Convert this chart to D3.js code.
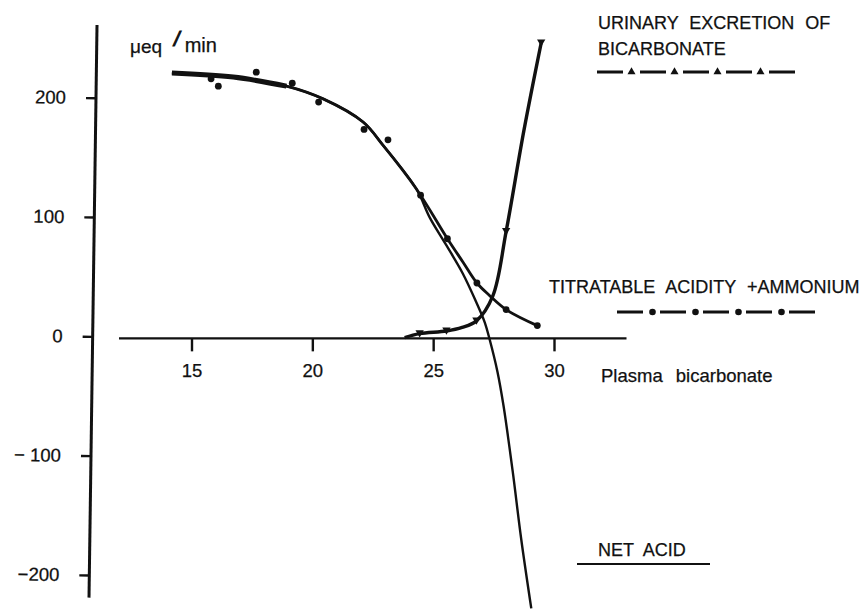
<!DOCTYPE html>
<html>
<head>
<meta charset="utf-8">
<script src="https://cdn.jsdelivr.net/npm/d3@7"></script>
<style>
  html, body { margin: 0; padding: 0; background: #fff; }
  svg { display: block; }
  text { font-family: "Liberation Sans", Arial, Helvetica, sans-serif; fill: #111; stroke: #111; stroke-width: 0.25; }
</style>
</head>
<body>
<svg id="chart" width="864" height="612"></svg>
<script>
// ---- data ----
const xTicks = [15, 20, 25, 30];
const yTicks = [-200, -100, 0, 100, 200];
const yTickLabels = ["\u2212200", "\u2212 100", "0", "100", "200"];

// titratable acidity + ammonium: measured points
const taDots = [
  [15.81, 215.8], [16.11, 209.7], [17.68, 221.4], [19.17, 212.2],
  [20.26, 196.3], [22.14, 173.4], [23.13, 164.7], [24.48, 118.3],
  [25.59, 81.8], [26.81, 44.7], [28.02, 22.4], [29.31, 9.0]
];
// titratable acidity + ammonium: fitted curve
const taCurve = [
  [14.19, 220.7], [16.73, 217.3], [18.93, 209.7], [20.45, 199],
  [22.1, 179.6], [22.93, 160], [24.3, 123.7], [25.59, 81.8],
  [26.23, 62.3], [26.81, 44.7], [27.33, 34.3], [28.02, 22.4], [29.31, 9]
];
// net acid curve
const netCurve = [
  [14.19, 220.7], [16.73, 217.3], [18.93, 209.7], [20.45, 199],
  [22.1, 179.6], [22.93, 160], [24.3, 123.7], [24.86, 99.5],
  [25.55, 76.2], [26.23, 52.5], [26.78, 28.8], [27.13, 12], [27.33, -2],
  [27.66, -29.6], [27.91, -58], [28.29, -113], [28.64, -169.4], [29.06, -228]
];
// urinary excretion of bicarbonate
const bicarbCurve = [
  [23.82, -1], [24.44, 2.3], [25.55, 4.5], [26.2, 7.5], [26.79, 13],
  [27.47, 34], [28.02, 88], [28.75, 172], [29.47, 246]
];
const bicarbMarkers = [
  [24.44, 2.3], [25.55, 4.5], [26.79, 13], [28.02, 88], [29.47, 246]
];

// ---- layout ----
const svg = d3.select("#chart");
const x = d3.scaleLinear().domain([15, 30]).range([191.5, 554]);
const y = d3.scaleLinear().domain([-200, 200]).range([575, 97.7]);

const fontFam = '"Liberation Sans", Arial, sans-serif';

// x axis
const xAxisG = svg.append("g")
  .attr("transform", `translate(0,${y(0) + 2})`);
xAxisG.append("line")
  .attr("x1", x(12)).attr("x2", x(33))
  .attr("stroke", "#111").attr("stroke-width", 2.4);
xAxisG.call(d3.axisBottom(x).tickValues(xTicks).tickSize(13).tickPadding(13).tickFormat(d3.format("d")))
  .call(g => g.select(".domain").remove())
  .call(g => g.selectAll(".tick line").attr("stroke", "#111").attr("stroke-width", 2.4))
  .call(g => g.selectAll(".tick text").attr("font-size", 18.5).attr("fill", "#111").attr("font-family", fontFam));

// x axis title
svg.append("text").attr("x", 601).attr("y", 382)
  .attr("font-size", 18.5).attr("word-spacing", 8).text("Plasma bicarbonate");

// y axis (slightly slanted, as in the original)
const yAxisG = svg.append("g")
  .attr("transform", "rotate(0.8, 93, 312) translate(93,0)");
yAxisG.append("line")
  .attr("y1", y(261)).attr("y2", y(-219))
  .attr("stroke", "#111").attr("stroke-width", 3);
yAxisG.call(d3.axisLeft(y).tickValues(yTicks).tickSize(10).tickPadding(20)
    .tickFormat(d => yTickLabels[yTicks.indexOf(d)]))
  .call(g => g.select(".domain").remove())
  .call(g => g.selectAll(".tick line").attr("stroke", "#111").attr("stroke-width", 2.4))
  .call(g => g.selectAll(".tick text").attr("font-size", 18.5).attr("fill", "#111").attr("font-family", fontFam));

// y unit label
const unit = svg.append("text").attr("x", 130).attr("y", 53).attr("font-size", 19);
unit.append("tspan").text("\u03bceq");
unit.append("tspan").attr("dx", 12).attr("dy", -7).attr("font-size", 20).attr("font-style", "italic")
  .attr("stroke-width", 1).text("/");
unit.append("tspan").attr("dx", 5).attr("dy", 6).attr("font-size", 20).text("min");

// ---- curves ----
const line = d3.line().x(d => x(d[0])).y(d => y(d[1])).curve(d3.curveCatmullRom.alpha(0.5));

svg.append("path").datum(netCurve).attr("d", line)
  .attr("fill", "none").attr("stroke", "#111").attr("stroke-width", 2.4);
svg.append("path").datum(taCurve).attr("d", line)
  .attr("fill", "none").attr("stroke", "#111").attr("stroke-width", 2.8);
svg.append("path").datum(bicarbCurve).attr("d", line)
  .attr("fill", "none").attr("stroke", "#111").attr("stroke-width", 3.4);

// thicker overlap on the upper part
svg.append("path").datum(taCurve.filter(d => d[0] < 19.5)).attr("d", line)
  .attr("fill", "none").attr("stroke", "#111").attr("stroke-width", 5);

svg.selectAll("circle.ta").data(taDots).join("circle")
  .attr("class", "ta")
  .attr("cx", d => x(d[0])).attr("cy", d => y(d[1])).attr("r", 3.4)
  .attr("fill", "#111");

const triDown = d3.symbol().type(d3.symbolTriangle).size(30);
svg.selectAll("path.bm").data(bicarbMarkers).join("path")
  .attr("class", "bm")
  .attr("d", triDown)
  .attr("transform", d => `translate(${x(d[0])},${y(d[1]) - 1}) rotate(180)`)
  .attr("fill", "#111");

// ---- legends ----
svg.append("text").attr("x", 598).attr("y", 29).attr("font-size", 18).attr("word-spacing", 6)
  .text("URINARY EXCRETION OF");
svg.append("text").attr("x", 598).attr("y", 55).attr("font-size", 18)
  .text("BICARBONATE");
svg.append("line").attr("x1", 597).attr("x2", 796).attr("y1", 72).attr("y2", 72)
  .attr("stroke", "#111").attr("stroke-width", 3).attr("stroke-dasharray", "26,17");
const triUp = d3.symbol().type(d3.symbolTriangle).size(28);
[631.5, 674.5, 717.5, 760.5].forEach(cx => {
  svg.append("path").attr("d", triUp).attr("transform", `translate(${cx},72)`).attr("fill", "#111");
});

svg.append("text").attr("x", 549).attr("y", 293).attr("font-size", 18).attr("word-spacing", 6)
  .text("TITRATABLE ACIDITY +AMMONIUM");
svg.append("line").attr("x1", 617).attr("x2", 816).attr("y1", 312).attr("y2", 312)
  .attr("stroke", "#111").attr("stroke-width", 3).attr("stroke-dasharray", "26,17");
[652.5, 695.5, 738.5, 781.5].forEach(cx => {
  svg.append("circle").attr("cx", cx).attr("cy", 312).attr("r", 3.3).attr("fill", "#111");
});

svg.append("text").attr("x", 598).attr("y", 556).attr("font-size", 18).attr("word-spacing", 5)
  .text("NET ACID");
svg.append("line").attr("x1", 577).attr("x2", 710).attr("y1", 564).attr("y2", 564)
  .attr("stroke", "#111").attr("stroke-width", 2.2);
</script>
</body>
</html>
